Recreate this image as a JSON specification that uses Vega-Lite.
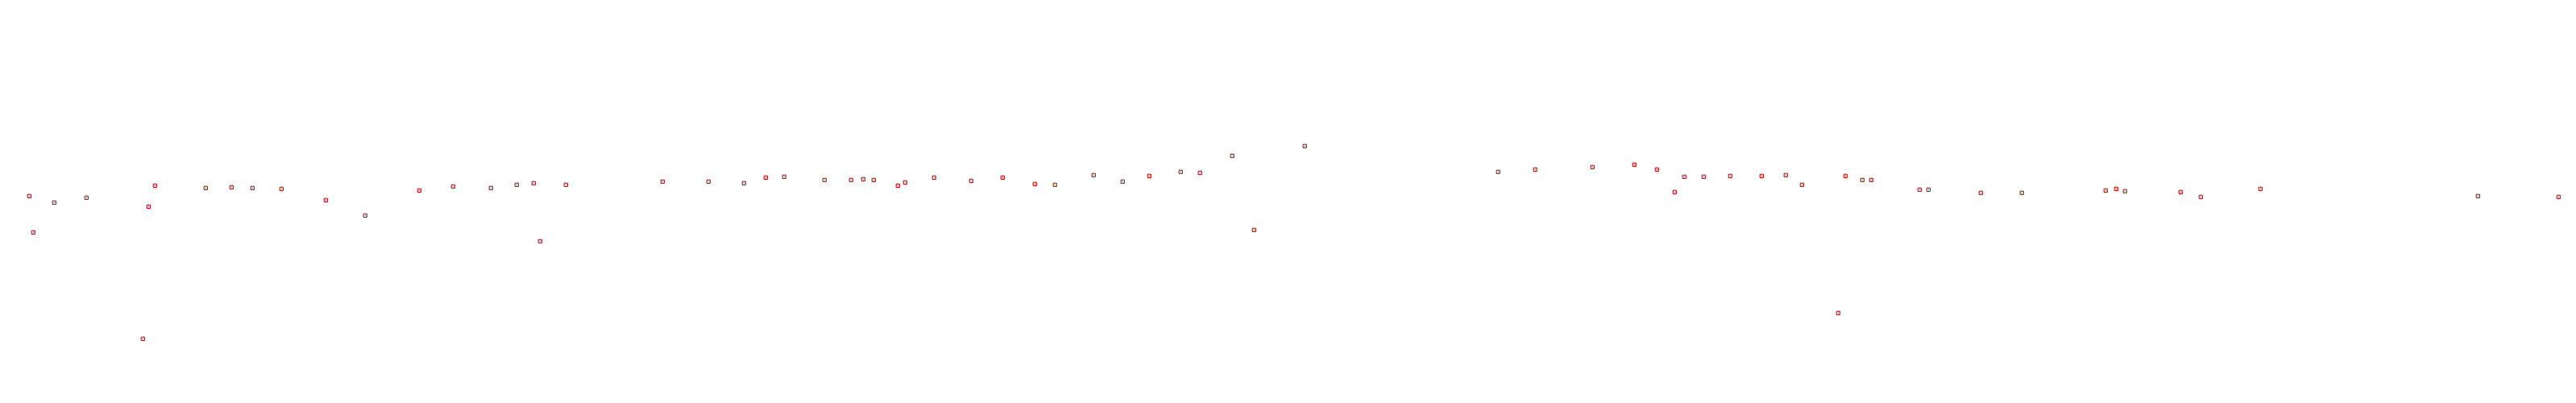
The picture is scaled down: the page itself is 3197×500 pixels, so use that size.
{
  "$schema": "https://vega.github.io/schema/vega-lite/v6.json",
  "width": 3197,
  "height": 500,
  "padding": 0,
  "autosize": {"type": "fit", "contains": "padding"},
  "background": "white",
  "config": {"view": {"stroke": null}},
  "data": {"values": [
    {"x": 11.35, "y": 51.34}, {"x": 12.92, "y": 42.34}, {"x": 21.05, "y": 49.74}, {"x": 33.56, "y": 50.94},
    {"x": 55.46, "y": 15.94}, {"x": 57.65, "y": 48.74}, {"x": 60.15, "y": 53.94}, {"x": 79.86, "y": 53.34},
    {"x": 89.87, "y": 53.54}, {"x": 98.0, "y": 53.34}, {"x": 109.26, "y": 53.14}, {"x": 126.46, "y": 50.34},
    {"x": 141.79, "y": 46.54}, {"x": 162.75, "y": 52.74}, {"x": 175.88, "y": 53.74}, {"x": 190.58, "y": 53.34},
    {"x": 200.59, "y": 54.14}, {"x": 207.16, "y": 54.54}, {"x": 209.67, "y": 40.14}, {"x": 219.67, "y": 54.14},
    {"x": 257.21, "y": 54.94}, {"x": 275.04, "y": 54.94}, {"x": 288.8, "y": 54.54}, {"x": 297.25, "y": 55.94},
    {"x": 304.44, "y": 56.14}, {"x": 320.08, "y": 55.34}, {"x": 330.4, "y": 55.34}, {"x": 335.1, "y": 55.54},
    {"x": 339.16, "y": 55.34}, {"x": 348.54, "y": 53.94}, {"x": 351.36, "y": 54.74}, {"x": 362.62, "y": 55.94},
    {"x": 377.01, "y": 55.14}, {"x": 389.21, "y": 55.94}, {"x": 401.72, "y": 54.34}, {"x": 409.54, "y": 54.14},
    {"x": 424.55, "y": 56.54}, {"x": 435.82, "y": 54.94}, {"x": 446.14, "y": 56.34}, {"x": 458.34, "y": 57.34},
    {"x": 465.84, "y": 57.14}, {"x": 478.35, "y": 61.34}, {"x": 486.8, "y": 42.94}, {"x": 506.51, "y": 63.74},
    {"x": 581.58, "y": 57.34}, {"x": 595.96, "y": 57.94}, {"x": 618.17, "y": 58.54}, {"x": 634.44, "y": 59.14},
    {"x": 643.2, "y": 57.94}, {"x": 650.08, "y": 52.34}, {"x": 653.83, "y": 56.14}, {"x": 661.34, "y": 56.14},
    {"x": 671.66, "y": 56.34}, {"x": 683.86, "y": 56.34}, {"x": 693.24, "y": 56.54}, {"x": 699.5, "y": 54.14},
    {"x": 713.58, "y": 22.34}, {"x": 716.39, "y": 56.34}, {"x": 722.96, "y": 55.34}, {"x": 726.4, "y": 55.34},
    {"x": 745.17, "y": 52.94}, {"x": 748.61, "y": 52.94}, {"x": 768.94, "y": 52.14}, {"x": 784.89, "y": 52.14},
    {"x": 817.42, "y": 52.74}, {"x": 821.49, "y": 53.14}, {"x": 824.93, "y": 52.54}, {"x": 846.51, "y": 52.34},
    {"x": 854.33, "y": 51.14}, {"x": 877.48, "y": 53.14}, {"x": 961.93, "y": 51.34}, {"x": 993.21, "y": 51.14}
  ]},
  "encoding": {
    "x": {"field": "x", "type": "quantitative", "scale": {"domain": [0, 1000], "nice": false, "zero": false}, "axis": null},
    "y": {"field": "y", "type": "quantitative", "scale": {"domain": [0, 100], "nice": false, "zero": false}, "axis": null}
  },
  "layer": [
    {"mark": {"type": "point", "shape": "square", "filled": false, "size": 18, "stroke": "#b00000", "strokeWidth": 1, "opacity": 1}},
    {"mark": {"type": "point", "shape": "square", "filled": true, "size": 1, "fill": "#b00000", "opacity": 1}}
  ]
}
